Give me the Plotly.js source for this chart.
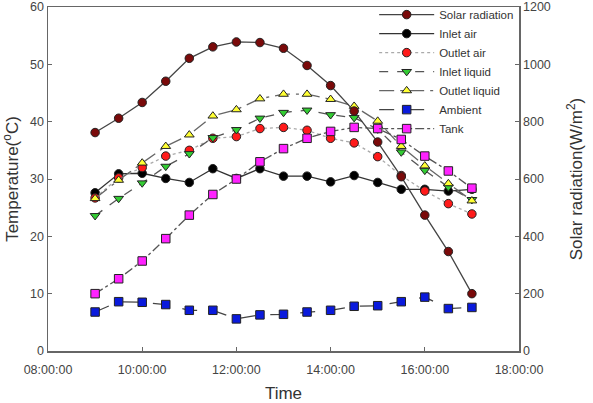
<!DOCTYPE html>
<html>
<head>
<meta charset="utf-8">
<script src="https://cdn.plot.ly/plotly-3.0.1.min.js"></script>
<style>
  html, body { margin: 0; padding: 0; background: #fff; }
  #chart { width: 593px; height: 403px; }
</style>
</head>
<body>
<div id="chart"></div>
<script>
// Half-hourly readings, 09:00 to 17:00
const times = [
  '2020-01-01 09:00:00', '2020-01-01 09:30:00', '2020-01-01 10:00:00', '2020-01-01 10:30:00',
  '2020-01-01 11:00:00', '2020-01-01 11:30:00', '2020-01-01 12:00:00', '2020-01-01 12:30:00',
  '2020-01-01 13:00:00', '2020-01-01 13:30:00', '2020-01-01 14:00:00', '2020-01-01 14:30:00',
  '2020-01-01 15:00:00', '2020-01-01 15:30:00', '2020-01-01 16:00:00', '2020-01-01 16:30:00',
  '2020-01-01 17:00:00'
];

// Solar radiation (W/m2), right axis
const solarRadiation = [762, 812, 867, 941, 1021, 1061, 1078, 1076, 1056, 996, 926, 837, 729, 608, 474, 347, 200];

// Temperatures (°C), left axis
const inletAir     = [27.6, 30.9, 31.0, 30.1, 29.4, 31.8, 30.1, 31.8, 30.5, 30.5, 29.5, 30.6, 29.4, 28.2, 28.2, 27.9, 28.2];
const outletAir    = [26.7, 30.2, 32.0, 34.0, 35.0, 37.1, 37.4, 38.8, 39.0, 38.5, 37.1, 36.3, 33.9, 30.6, 27.9, 25.7, 23.9];
const inletLiquid  = [23.6, 26.6, 29.3, 32.2, 34.4, 37.2, 38.6, 40.6, 41.6, 42.0, 41.2, 40.7, 38.7, 34.7, 31.5, 28.6, 26.4];
const outletLiquid = [26.6, 29.8, 32.8, 35.7, 37.7, 41.0, 42.1, 44.0, 44.8, 44.8, 43.9, 42.7, 40.1, 35.7, 32.3, 29.2, 26.2];
const ambient      = [6.8, 8.6, 8.5, 8.1, 7.1, 7.1, 5.6, 6.3, 6.4, 6.8, 7.1, 7.8, 7.9, 8.6, 9.4, 7.4, 7.6];
const tank         = [10.0, 12.6, 15.7, 19.6, 23.7, 27.3, 30.0, 33.0, 35.3, 37.1, 38.3, 39.0, 38.8, 36.9, 34.0, 31.4, 28.4];

const xTicks = ['2020-01-01 08:00:00', '2020-01-01 10:00:00', '2020-01-01 12:00:00',
                '2020-01-01 14:00:00', '2020-01-01 16:00:00', '2020-01-01 18:00:00'];
const xTickText = ['08:00:00', '10:00:00', '12:00:00', '14:00:00', '16:00:00', '18:00:00'];

const FONT = 'Liberation Sans, Arial, sans-serif';
const outline = { color: '#222', width: 1 };

function series(name, y, symbol, fill, lineColor, dash, yaxis) {
  return {
    type: 'scatter', mode: 'lines+markers', name: name,
    x: times, y: y, yaxis: yaxis || 'y',
    line: { color: lineColor, width: 1.3, dash: dash },
    marker: { symbol: symbol, size: 8.5, color: fill, line: outline }
  };
}

const traces = [
  series('Solar radiation', solarRadiation, 'circle', '#7a0a0a', '#444', 'solid', 'y2'),
  series('Inlet air', inletAir, 'circle', '#000000', '#333', 'solid'),
  series('Outlet air', outletAir, 'circle', '#ff1a1a', '#aaa', 'dot'),
  series('Inlet liquid', inletLiquid, 'triangle-down', '#33cc33', '#555', 'dash'),
  series('Outlet liquid', outletLiquid, 'triangle-up', '#ffff33', '#666', 'longdashdot'),
  series('Ambient', ambient, 'square', '#0a1adc', '#444', 'longdash'),
  series('Tank', tank, 'square', '#ff22ff', '#555', 'dashdot')
];

const axisCommon = {
  showgrid: false, zeroline: false,
  showline: true, linecolor: '#666', linewidth: 1.5,
  ticks: 'inside', ticklen: 4, tickcolor: '#666',
  tickfont: { family: FONT, size: 12.5, color: '#444' }
};

const titleFont = { family: FONT, size: 17, color: '#333' };

const layout = {
  width: 593, height: 403,
  margin: { l: 48, r: 74, t: 7, b: 52, autoexpand: false },
  paper_bgcolor: '#fff', plot_bgcolor: '#fff',
  showlegend: true,
  legend: {
    x: 0.6925, y: 1.02, xanchor: 'left', yanchor: 'top',
    bgcolor: 'rgba(255,255,255,0)', borderwidth: 0,
    font: { family: FONT, size: 11.5, color: '#333' },
    tracegroupgap: 0, itemwidth: 55
  },
  xaxis: Object.assign({}, axisCommon, {
    type: 'date',
    range: ['2020-01-01 08:00:00', '2020-01-01 18:00:00'],
    tickmode: 'array', tickvals: xTicks, ticktext: xTickText,
    mirror: true, ticklabelstandoff: 6,
    title: { text: 'Time', font: titleFont, standoff: 12 }
  }),
  yaxis: Object.assign({}, axisCommon, {
    range: [0, 60], dtick: 10,
    title: { text: 'Temperature(<sup>o</sup>C)', font: titleFont, standoff: 8 }
  }),
  yaxis2: Object.assign({}, axisCommon, {
    overlaying: 'y', side: 'right',
    range: [0, 1200], dtick: 200,
    title: { text: 'Solar radiation(W/m<sup>2</sup>)', font: titleFont, standoff: 20 }
  })
};

Plotly.newPlot('chart', traces, layout, { staticPlot: true, displayModeBar: false });
</script>
</body>
</html>
